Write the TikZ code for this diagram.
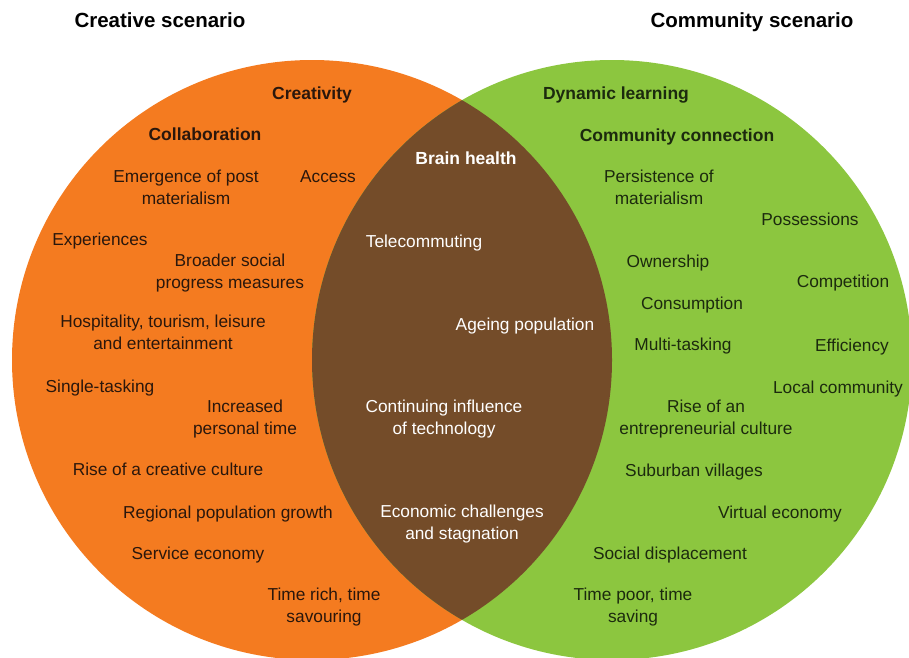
\documentclass[tikz,border=0pt]{standalone}
\usepackage{fontspec}
\setmainfont{Liberation Sans}
\begin{document}
\begin{tikzpicture}[x=1pt,y=-1pt,
  lbl/.style={align=center,font=\fontsize{17.3}{22}\selectfont,inner sep=0pt,text depth=4pt,yshift=-2pt},
  olbl/.style={lbl,text=otext},
  glbl/.style={lbl,text=gtext},
  wlbl/.style={lbl,text=white},
  bold/.style={font=\fontsize{17.5}{22}\bfseries\selectfont},
  title/.style={inner sep=0pt,text depth=4pt,yshift=-1pt,text=black,font=\fontsize{20.5}{22}\bfseries\selectfont}]
\definecolor{orng}{HTML}{F47B20}
\definecolor{grn}{HTML}{8CC63F}
\definecolor{brwn}{HTML}{744C29}
\definecolor{otext}{HTML}{2A170C}
\definecolor{gtext}{HTML}{1C2A0E}
\useasboundingbox (0,0) rectangle (909,657);
\begin{scope}
\clip (0,0) rectangle (909,657);
\fill[orng] (312,360) circle[radius=300];
\fill[grn] (612,360) circle[radius=300];
\begin{scope}
\clip (312,360) circle[radius=300];
\fill[brwn] (612,360) circle[radius=300];
\end{scope}
\end{scope}
% titles
\node[title] (t1) at (160,21) {Creative scenario};
\node[title] (t2) at (752,21) {Community scenario};
% orange
\node[olbl,bold] (o1) at (312,93) {Creativity};
\node[olbl,bold] (o2) at (205,134) {Collaboration};
\node[olbl] (o3) at (186,187) {Emergence of post\\materialism};
\node[olbl] (o4) at (328,177) {Access};
\node[olbl] (o5) at (100,239) {Experiences};
\node[olbl] (o6) at (230,271) {Broader social\\progress measures};
\node[olbl] (o7) at (163,332) {Hospitality, tourism, leisure\\and entertainment};
\node[olbl] (o8) at (100,386) {Single-tasking};
\node[olbl] (o9) at (245,417) {Increased\\personal time};
\node[olbl] (o10) at (168,469) {Rise of a creative culture};
\node[olbl] (o11) at (228,512) {Regional population growth};
\node[olbl] (o12) at (198,553) {Service economy};
\node[olbl] (o13) at (324,605) {Time rich, time\\savouring};
% lens
\node[wlbl,bold] (b1) at (466,158) {Brain health};
\node[wlbl] (b2) at (424,241) {Telecommuting};
\node[wlbl] (b3) at (525,324) {Ageing population};
\node[wlbl] (b4) at (444,417) {Continuing influence\\of technology};
\node[wlbl] (b5) at (462,522) {Economic challenges\\and stagnation};
% green
\node[glbl,bold] (g1) at (616,93) {Dynamic learning};
\node[glbl,bold] (g2) at (677,135) {Community connection};
\node[glbl] (g3) at (659,187) {Persistence of\\materialism};
\node[glbl] (g4) at (810,219) {Possessions};
\node[glbl] (g5) at (668,261) {Ownership};
\node[glbl] (g6) at (843,281) {Competition};
\node[glbl] (g7) at (692,303) {Consumption};
\node[glbl] (g8) at (683,344) {Multi-tasking};
\node[glbl] (g9) at (852,345) {Efficiency};
\node[glbl] (g10) at (838,387) {Local community};
\node[glbl] (g11) at (706,417) {Rise of an\\entrepreneurial culture};
\node[glbl] (g12) at (694,470) {Suburban villages};
\node[glbl] (g13) at (780,512) {Virtual economy};
\node[glbl] (g14) at (670,553) {Social displacement};
\node[glbl] (g15) at (633,605) {Time poor, time\\saving};
\end{tikzpicture}
\end{document}
